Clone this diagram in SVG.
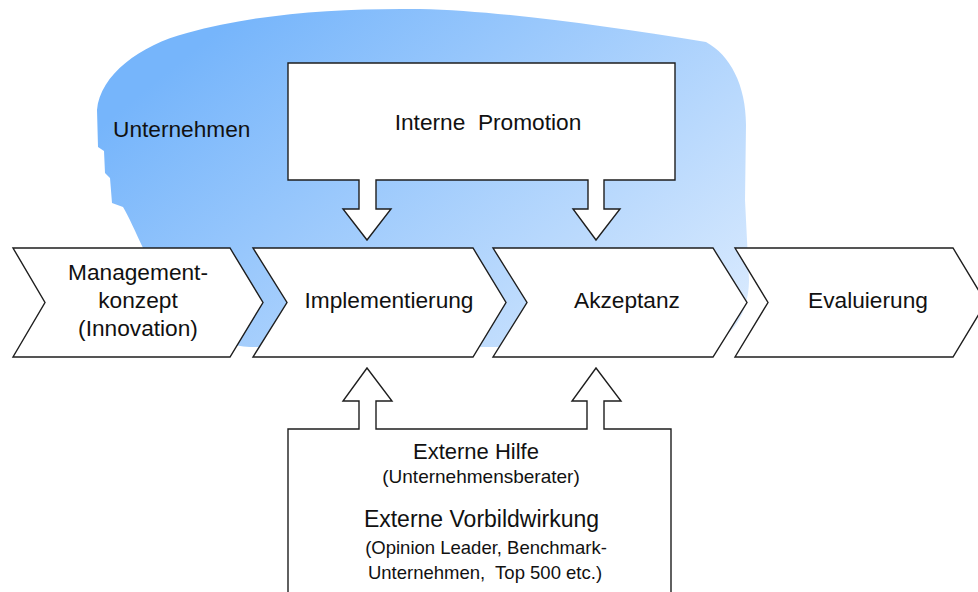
<svg xmlns="http://www.w3.org/2000/svg" width="978" height="592" viewBox="0 0 978 592">
  <defs>
    <linearGradient id="companyFill" gradientUnits="userSpaceOnUse" x1="230" y1="20" x2="590" y2="460">
      <stop offset="0" stop-color="#76b5fb"/>
      <stop offset="1" stop-color="#dbebfe"/>
    </linearGradient>
  </defs>
  <style>
    .shape { fill: #ffffff; stroke: #1e1e1e; stroke-width: 1.4; stroke-linejoin: miter; }
    .lbl { font-family: "Liberation Sans", Arial, sans-serif; fill: #111111; text-anchor: middle; }
    .big { font-size: 22.7px; }
  </style>

  <rect width="978" height="592" fill="#ffffff"/>

  <!-- company area behind the process -->
  <g id="unternehmen">
    <path fill="url(#companyFill)" d="M 97 110 C 100 75 140 45 187 33 C 260 13 340 8 420 9 C 500 11 600 25 706 42 C 730 55 746 85 746 125 L 745 200 L 749 280 C 749 305 738 346 690 347 L 250 347 C 215 346 190 320 170 290 L 143 248 C 136 233 128 215 123 207 L 112 203 L 110 178 L 105 173 L 104 151 L 98 147 Z"/>
    <text class="lbl big" x="113" y="137" style="text-anchor:start">Unternehmen</text>
  </g>

  <!-- internal promotion with its two arrows down -->
  <g id="interne-promotion">
    <path class="shape" d="M 288 63 L 675 63 L 675 180 L 604 180 L 604 209 L 620 209 L 596 240 L 573 209 L 588 209 L 588 180 L 376 180 L 376 209 L 391 209 L 367 240 L 343 209 L 359 209 L 359 180 L 288 180 Z"/>
    <text class="lbl big" x="488" y="130" xml:space="preserve">Interne  Promotion</text>
  </g>

  <!-- process chevrons -->
  <g id="managementkonzept">
    <path class="shape" d="M 13 248 L 230 248 L 263 302.5 L 230 357 L 13 357 L 45 302.5 Z"/>
    <text class="lbl big" x="138" y="280">Management-</text>
    <text class="lbl big" x="138" y="308">konzept</text>
    <text class="lbl big" x="138" y="336">(Innovation)</text>
  </g>
  <g id="implementierung">
    <path class="shape" d="M 253 248 L 473 248 L 506 302.5 L 473 357 L 253 357 L 287 302.5 Z"/>
    <text class="lbl big" x="389" y="308">Implementierung</text>
  </g>
  <g id="akzeptanz">
    <path class="shape" d="M 493 248 L 713 248 L 747 302.5 L 713 357 L 493 357 L 527 302.5 Z"/>
    <text class="lbl big" x="627" y="308">Akzeptanz</text>
  </g>
  <g id="evaluierung">
    <path class="shape" d="M 735 248 L 953 248 L 986 302.5 L 953 357 L 735 357 L 768 302.5 Z"/>
    <text class="lbl big" x="868" y="308">Evaluierung</text>
  </g>

  <!-- external support with its two arrows up -->
  <g id="externe-hilfe">
    <path class="shape" d="M 288 600 L 288 429 L 359 429 L 359 401 L 343 401 L 367 368 L 392 401 L 376 401 L 376 429 L 587 429 L 587 401 L 572 401 L 596 368 L 621 401 L 604 401 L 604 429 L 671 429 L 671 600 Z"/>
    <text class="lbl" x="476" y="459" font-size="22">Externe Hilfe</text>
    <text class="lbl" x="481" y="483" font-size="19">(Unternehmensberater)</text>
    <text class="lbl" x="481.5" y="527" font-size="23">Externe Vorbildwirkung</text>
    <text class="lbl" x="486" y="554" font-size="18.5">(Opinion Leader, Benchmark-</text>
    <text class="lbl" x="485" y="579" font-size="18.5" xml:space="preserve">Unternehmen,  Top 500 etc.)</text>
  </g>

  <g id="connectors"/>
</svg>
